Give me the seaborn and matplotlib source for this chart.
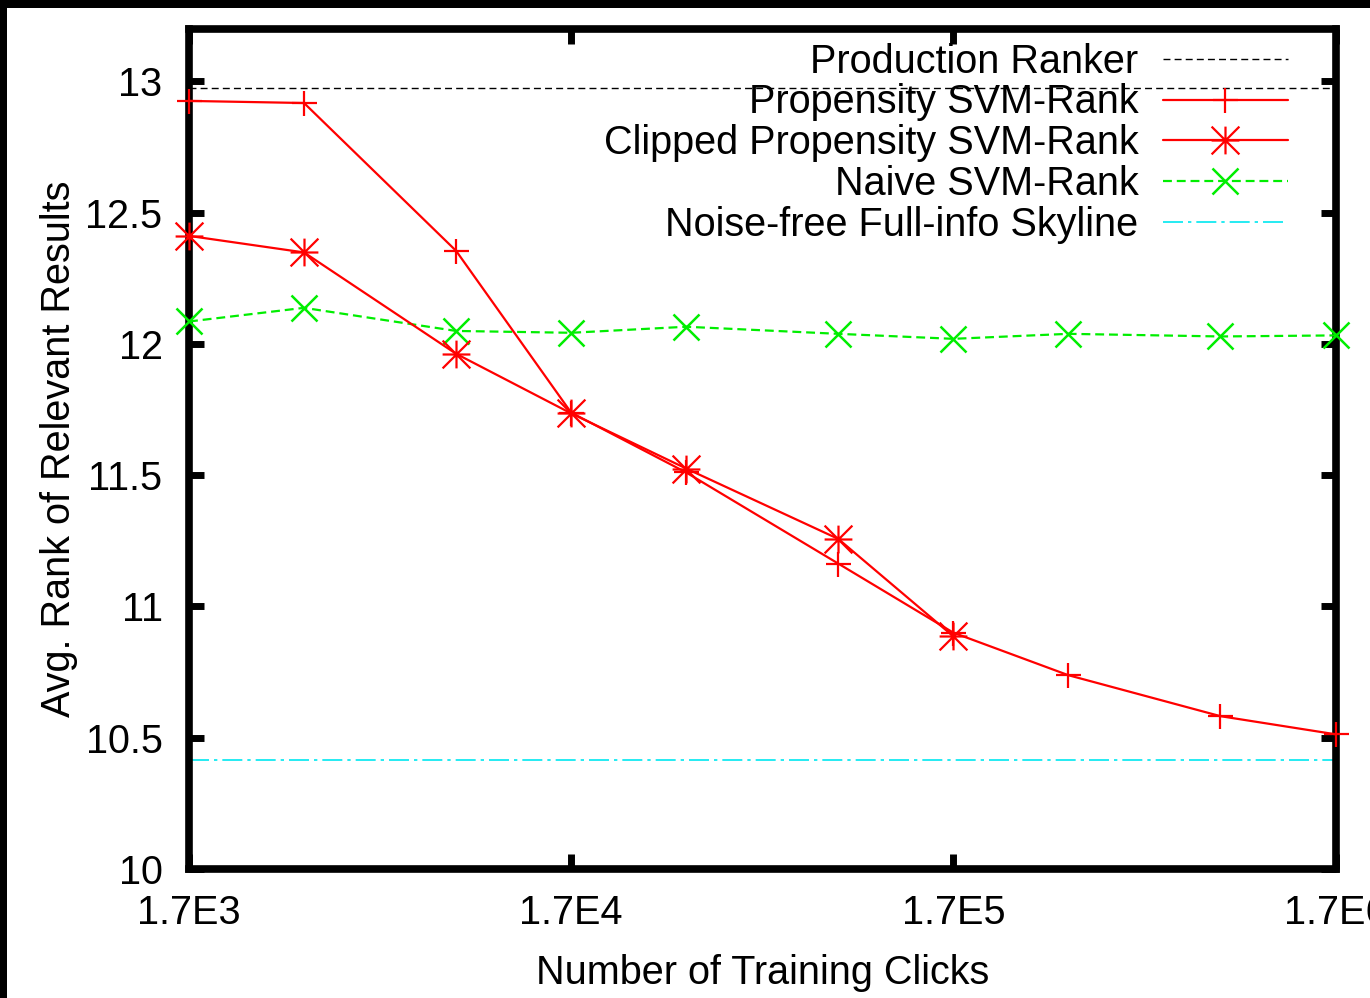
import matplotlib
matplotlib.use("Agg")
import matplotlib.pyplot as plt
from matplotlib.path import Path
from matplotlib.patches import Rectangle
from matplotlib.ticker import NullLocator
import seaborn as sns

# Training-set sizes (number of clicks)
clicks = [1700, 3400, 8500, 17000, 34000, 85000, 170000, 340000, 850000, 1700000]

# Average rank of relevant results per method
propensity_svm = [12.925, 12.917, 12.354, 11.738, 11.51, 11.163, 10.90, 10.738, 10.582, 10.513]
clipped_svm = [12.411, 12.348, 11.962, 11.735, 11.525, 11.257, 10.886]
naive_svm = [12.085, 12.137, 12.049, 12.042, 12.065, 12.038, 12.019, 12.038, 12.028, 12.032]
production_ranker = 12.973
skyline = 10.414

series_labels = [
    "Production Ranker",
    "Propensity SVM-Rank",
    "Clipped Propensity SVM-Rank",
    "Naive SVM-Rank",
    "Noise-free Full-info Skyline",
]
xtick_values = [1700, 17000, 170000, 1700000]
xtick_labels = ["1.7E3", "1.7E4", "1.7E5", "1.7E6"]
ytick_values = [10, 10.5, 11, 11.5, 12, 12.5, 13]
ytick_labels = ["10", "10.5", "11", "11.5", "12", "12.5", "13"]

sns.set_theme(style="white")
plt.rcParams["font.family"] = ["Liberation Sans", "DejaVu Sans"]
FS = 28.5

fig = plt.figure(figsize=(13.7, 9.98), dpi=100)
fig.patch.set_facecolor("white")
ax = fig.add_axes([189 / 1370, 1 - 869 / 998, (1335.5 - 189) / 1370, (869 - 28.7) / 998])

RED = "#ff0000"
GREEN = "#00ee00"
CYAN = "#00e8f0"

# gnuplot-style asterisk: "+" overlaid with "x"
star = Path(
    [(-1, 0), (1, 0), (0, -1), (0, 1), (-1, -1), (1, 1), (-1, 1), (1, -1)],
    [Path.MOVETO, Path.LINETO] * 4,
)

h_prod = ax.axhline(production_ranker, color="black", lw=1.0,
                    linestyle=(0, (5, 3)), zorder=2, label=series_labels[0])

sns.lineplot(x=clicks, y=propensity_svm, ax=ax, color=RED, lw=1.6,
             marker="+", markersize=18, markeredgewidth=1.6, markeredgecolor=RED,
             clip_on=False, zorder=4, label=series_labels[1], legend=False)
sns.lineplot(x=clicks[:len(clipped_svm)], y=clipped_svm, ax=ax, color=RED, lw=1.6,
             marker=star, markersize=20, markeredgewidth=1.6, markerfacecolor="none",
             markeredgecolor=RED, clip_on=False, zorder=4,
             label=series_labels[2], legend=False)
sns.lineplot(x=clicks, y=naive_svm, ax=ax, color=GREEN, lw=1.6,
             linestyle=(0, (4, 2.2)), marker="x", markersize=19,
             markeredgewidth=1.8, markeredgecolor=GREEN, clip_on=False, zorder=3,
             label=series_labels[3], legend=False)
h_sky = ax.axhline(skyline, color=CYAN, lw=1.2,
                   linestyle=(0, (12, 3, 2, 3)), zorder=2, label=series_labels[4])

ax.set_xscale("log")
ax.set_xlim(1700, 1700000)
ax.set_ylim(10, 13.2)
ax.set_xticks(xtick_values)
ax.set_xticklabels(xtick_labels)
ax.xaxis.set_minor_locator(NullLocator())
ax.set_yticks(ytick_values)
ax.set_yticklabels(ytick_labels)

ax.tick_params(axis="both", which="major", direction="in", length=11, width=5,
               color="black", labelsize=FS, labelcolor="black",
               top=True, right=True, bottom=True, left=True)
ax.tick_params(axis="y", pad=19)
ax.tick_params(axis="x", pad=18)

for sp in ax.spines.values():
    sp.set_visible(True)
    sp.set_color("black")
    sp.set_linewidth(5.5)

ax.set_xlabel("Number of Training Clicks", fontsize=FS, color="black", va="center")
ax.set_ylabel("Avg. Rank of Relevant Results", fontsize=FS, color="black", va="center")
ax.xaxis.set_label_coords(0.5, -0.124)
ax.yaxis.set_label_coords(-0.1134, 0.5)

lines = ax.get_lines()
handles = [h_prod] + [l for l in lines if l.get_label() in series_labels[1:4]] + [h_sky]
leg = ax.legend(handles=handles, labels=series_labels, loc="upper right",
                bbox_to_anchor=(1 - 48 / 1146.5, 1 - 14 / 840.3),
                frameon=False, markerfirst=False, fontsize=FS,
                handlelength=3.15, handletextpad=0.62, labelspacing=0.07,
                borderpad=0, borderaxespad=0, numpoints=1)
for t in leg.get_texts():
    t.set_color("black")

# dark frame strips along the top and left edges of the image
fig.patches.append(Rectangle((0, 1 - 8 / 998), 1, 8 / 998, transform=fig.transFigure,
                             facecolor="black", edgecolor="none", zorder=10))
fig.patches.append(Rectangle((0, 0), 7 / 1370, 1, transform=fig.transFigure,
                             facecolor="black", edgecolor="none", zorder=10))

fig.savefig("out.png", dpi=100, facecolor="white")
